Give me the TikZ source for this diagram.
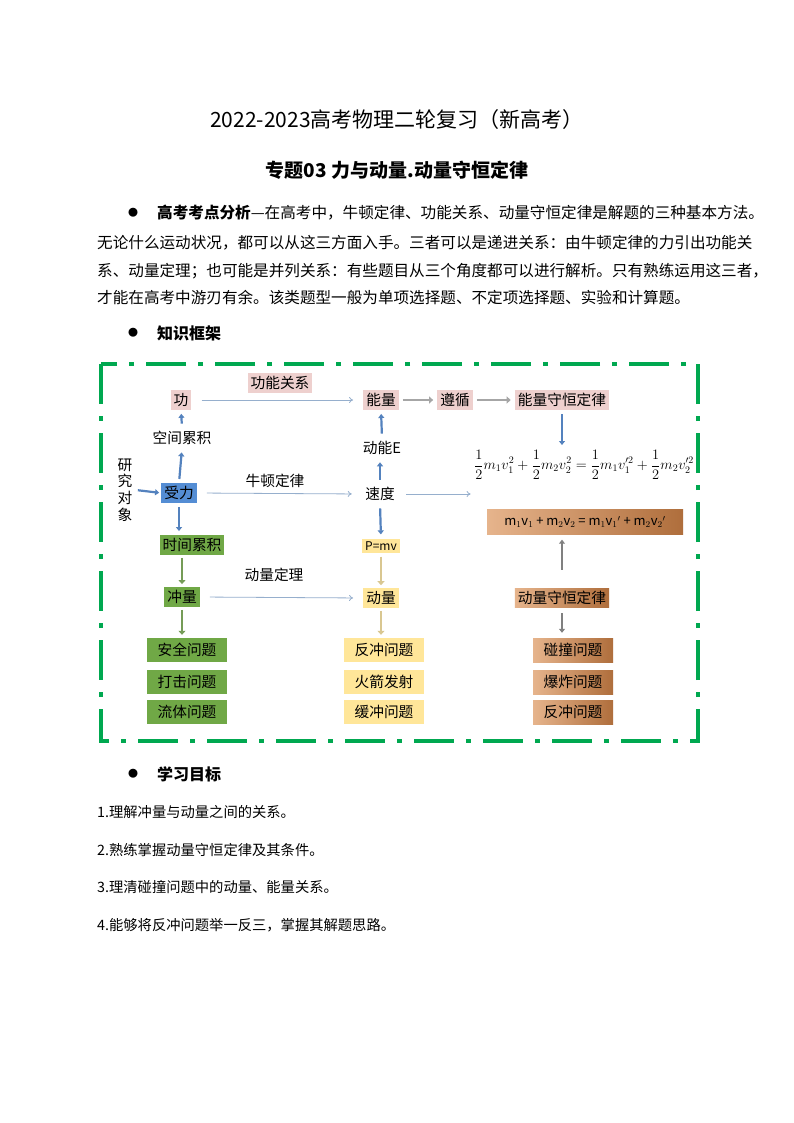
\documentclass[tikz,border=0pt]{standalone}
\usepackage{fontspec}
\setmainfont{Noto Sans CJK SC}
\usetikzlibrary{arrows.meta}
\usetikzlibrary{positioning}
\definecolor{framegreen}{RGB}{0,168,80}
\definecolor{pinkfill}{RGB}{238,208,206}
\definecolor{bluefill}{RGB}{84,141,212}
\definecolor{greenfill}{RGB}{112,168,70}
\definecolor{yellowfill}{RGB}{255,230,153}
\definecolor{brownA}{RGB}{230,180,140}
\definecolor{brownB}{RGB}{175,110,60}
\definecolor{arrblue}{RGB}{150,175,205}
\definecolor{blockblue}{RGB}{84,130,190}
\newcommand\fsz[1]{\fontsize{#1}{#1}\selectfont}
\tikzset{
  box/.style={inner xsep=3pt,inner ysep=3pt,font=\fsz{14.7pt}},
  pinkbox/.style={box,fill=pinkfill},
  bluebox/.style={box,fill=bluefill},
  greenbox/.style={box,fill=greenfill},
  yellowbox/.style={box,fill=yellowfill},
  brownbox/.style={box,left color=brownA,right color=brownB},
  probbox/.style={minimum width=80pt,minimum height=24pt},
  thinarr/.style={arrblue,line width=0.8pt,-{To[length=4pt,width=6pt]}},
  blockarr/.style={blockblue,line width=2.2pt,-{Triangle[length=4pt,width=6pt]},shorten <=4pt,shorten >=4pt},
  grayarr/.style={gray,line width=2pt,-{Triangle[length=4pt,width=6pt]},shorten <=5pt,shorten >=5pt},
  hollowarr/.style={line width=2.2pt,-{Triangle[length=4pt,width=7pt]},shorten <=3pt,shorten >=3pt},
  dblarr/.style={gray!70,line width=2.4pt,-{Triangle[length=4pt,width=7pt]},shorten <=4pt,shorten >=4pt},
  plain/.style={font=\fsz{14.7pt}}
}
\begin{document}
\begin{tikzpicture}[x=1pt,y=-1pt]
\useasboundingbox[fill=white] (0,0) rectangle (794,1123);
% title
\node (title) at (397,120) {\fsz{21pt}2022-2023高考物理二轮复习（新高考）};
\node (subtitle) at (397,170) {\fsz{19pt}\bfseries 专题03 力与动量.动量守恒定律};
% analysis
\node (b1) at (133,213) {\fsz{10pt}●};
\node[anchor=west,inner sep=0] (p1) at (157,213) {\fsz{15.6pt}\textbf{高考考点分析}---在高考中，牛顿定律、功能关系、动量守恒定律是解题的三种基本方法。};
\node[anchor=west,inner sep=0] (p2) at (97,243) {\fsz{15.6pt}无论什么运动状况，都可以从这三方面入手。三者可以是递进关系：由牛顿定律的力引出功能关};
\node[anchor=west,inner sep=0] (p3) at (97,271) {\fsz{15.6pt}系、动量定理；也可能是并列关系：有些题目从三个角度都可以进行解析。只有熟练运用这三者，};
\node[anchor=west,inner sep=0] (p4) at (97,298) {\fsz{15.6pt}才能在高考中游刃有余。该类题型一般为单项选择题、不定项选择题、实验和计算题。};
\node (b2) at (133,333) {\fsz{10pt}●};
\node[anchor=west,inner sep=0] (kf) at (157,333) {\fsz{16pt}\bfseries 知识框架};
% frame
\draw[framegreen,line width=4pt,dash pattern=on 40pt off 12pt on 5pt off 12pt] (101,364) rectangle (698,741);
% first row
\node[pinkbox] (gong) at (181,400) {功};
\node[pinkbox] (gngx) at (280,383) {功能关系};
\node[pinkbox] (nl) at (381,400) {能量};
\node[pinkbox] (zx) at (455,400) {遵循};
\node[pinkbox] (nlsh) at (562,400) {能量守恒定律};
\node[plain] (kjlj) at (182,438) {空间累积};
\node[plain] (dne) at (382,448) {动能E};
\node[plain,align=center,font=\fsz{14.7pt}] (yjdx) at (125,490) {研\\[2pt]究\\[2pt]对\\[2pt]象};
\node[bluebox] (sl) at (179,493) {受力};
\node[plain] (ndl) at (275,481) {牛顿定律};
\node[plain] (sd) at (380,494) {速度};
\node (formula) at (584,465) {\fsz{14pt}$\displaystyle\frac{1}{2}m_1v_1^2+\frac{1}{2}m_2v_2^2=\frac{1}{2}m_1v_1'^2+\frac{1}{2}m_2v_2'^2$};
\node[brownbox,minimum width=196pt,minimum height=25pt] (mv) at (585,522) {\fsz{13pt}m$_1$v$_1$ + m$_2$v$_2$ = m$_1$v$_1$$'$ + m$_2$v$_2$$'$};
\node[greenbox] (sjlj) at (192,545) {时间累积};
\node[yellowbox,font=\fsz{12pt}] (pmv) at (381,546) {P=mv};
\node[plain] (dldl) at (274,575) {动量定理};
\node[greenbox] (cl) at (182,597) {冲量};
\node[yellowbox] (dl) at (381,598) {动量};
\node[brownbox] (dlsh) at (562,598) {动量守恒定律};
% problem boxes
\node[greenbox,probbox] (aq) at (187,650) {安全问题};
\node[greenbox,probbox] (dj) at (187,682) {打击问题};
\node[greenbox,probbox] (lt) at (187,712) {流体问题};
\node[yellowbox,probbox] (fc) at (384,650) {反冲问题};
\node[yellowbox,probbox] (hj) at (384,682) {火箭发射};
\node[yellowbox,probbox] (hc) at (384,712) {缓冲问题};
\node[brownbox,probbox] (pz) at (573,650) {碰撞问题};
\node[brownbox,probbox] (bz) at (573,682) {爆炸问题};
\node[brownbox,probbox] (fc2) at (573,712) {反冲问题};
% connectors
\draw[thinarr,shorten <=10pt,shorten >=10pt] (gong.east) -- (nl.west);
\draw[thinarr,shorten <=10pt,shorten >=10pt] (sl.east) -- (sd.west);
\draw[thinarr,shorten <=8pt] (sd.east) -- (formula.south west |- sd.east);
\draw[thinarr,shorten <=10pt,shorten >=10pt] (cl.east) -- (dl.west);
\draw[dblarr] (nl.east) -- (zx.west);
\draw[dblarr] (zx.east) -- (nlsh.west);
\draw[blockarr] (sl.north) -- (kjlj.south);
\draw[blockarr] (kjlj.north) -- (gong.south);
\draw[blockarr,shorten <=2pt,shorten >=2pt] (yjdx.east) -- (sl.west);
\draw[blockarr] (sl.south) -- (sl.south |- sjlj.north);
\draw[blockarr] (sd.north) -- (dne.south -| sd.north);
\draw[blockarr] (dne.north) -- (nl.south);
\draw[blockarr] (sd.south) -- (pmv.north);
\draw[blockarr,shorten >=2pt] (nlsh.south) -- (nlsh.south |- formula.north);
\draw[hollowarr,draw=yellowfill!70!gray] (pmv.south) -- (dl.north);
\draw[hollowarr,draw=greenfill!70!gray] (cl.north |- sjlj.south) -- (cl.north);
\draw[hollowarr,draw=greenfill!70!gray] (cl.south) -- (cl.south |- aq.north);
\draw[hollowarr,draw=yellowfill!70!gray] (dl.south) -- (dl.south |- fc.north);
\draw[grayarr] (dlsh.south) -- (dlsh.south |- pz.north);
\draw[grayarr,shorten <=18pt] (dlsh.north) -- (dlsh.north |- mv.south);
% objectives
\node (b3) at (133,774) {\fsz{10pt}●};
\node[anchor=west,inner sep=0] (xx) at (157,774) {\fsz{16pt}\bfseries 学习目标};
\node[anchor=west,inner sep=0] (o1) at (97,812) {\fsz{14.3pt}1.理解冲量与动量之间的关系。};
\node[anchor=west,inner sep=0] (o2) at (97,850) {\fsz{14.3pt}2.熟练掌握动量守恒定律及其条件。};
\node[anchor=west,inner sep=0] (o3) at (97,887) {\fsz{14.3pt}3.理清碰撞问题中的动量、能量关系。};
\node[anchor=west,inner sep=0] (o4) at (97,925) {\fsz{14.3pt}4.能够将反冲问题举一反三，掌握其解题思路。};
\end{tikzpicture}
\end{document}
